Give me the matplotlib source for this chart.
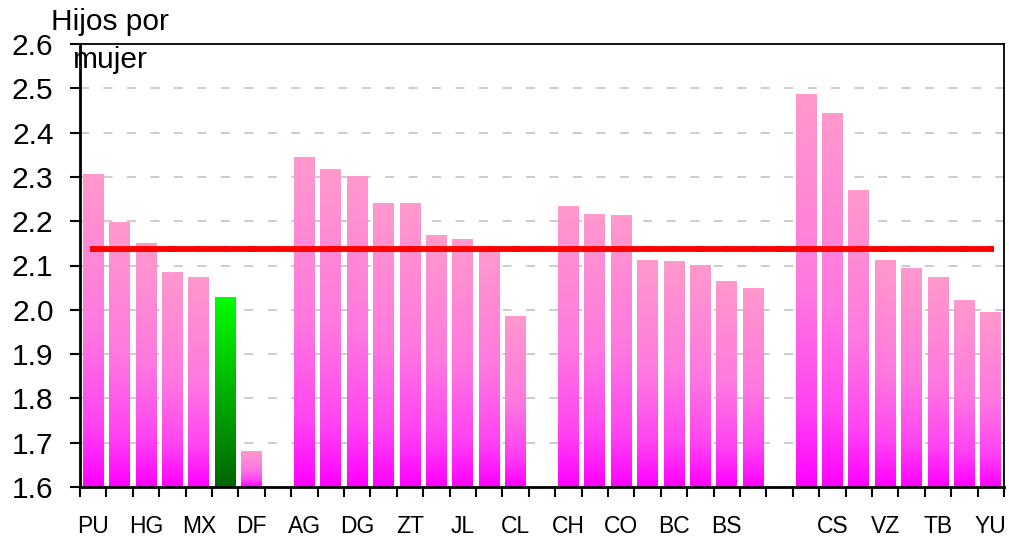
import numpy as np
import matplotlib.pyplot as plt
from matplotlib.colors import LinearSegmentedColormap

plt.rcParams['font.family'] = ['Liberation Sans', 'DejaVu Sans']

# one slot per position on the x axis, '' = no label / empty slot
slot_labels = ['PU', '', 'HG', '', 'MX', '', 'DF', '',
               'AG', '', 'DG', '', 'ZT', '', 'JL', '', 'CL', '',
               'CH', '', 'CO', '', 'BC', '', 'BS', '', '',
               '', 'CS', '', 'VZ', '', 'TB', '', 'YU']
tasa = [2.306, 2.198, 2.149, 2.085, 2.072, 2.027, 1.681, np.nan,
        2.343, 2.316, 2.302, 2.240, 2.239, 2.167, 2.158, 2.133, 1.986, np.nan,
        2.234, 2.216, 2.212, 2.112, 2.108, 2.099, 2.063, 2.049, np.nan,
        2.485, 2.444, 2.270, 2.112, 2.094, 2.072, 2.022, 1.995]
resaltado = 5          # bar drawn in green
promedio = 2.137       # national level (red line)

y_min, y_max = 1.6, 2.6
bar_w = 0.79

cmap_rosa = LinearSegmentedColormap.from_list(
    'rosa', [(0, '#FF00FF'), (0.2, '#FF44F2'), (0.5, '#FF78E0'), (1, '#FF99CC')])
cmap_verde = LinearSegmentedColormap.from_list('verde', ['#006400', '#00FF00'])
grad = np.linspace(0, 1, 256).reshape(-1, 1)

fig = plt.figure(figsize=(10.09, 5.42), dpi=100)
ax = fig.add_axes([80 / 1009, 1 - 487 / 542, 924 / 1009, 443 / 542])

x = np.arange(len(tasa))
for xi, v in zip(x, tasa):
    if np.isnan(v):
        continue
    cm = cmap_verde if xi == resaltado else cmap_rosa
    ax.imshow(grad, cmap=cm, origin='lower', aspect='auto', zorder=2,
              extent=[xi - bar_w / 2, xi + bar_w / 2, y_min, v],
              interpolation='bilinear')

ax.plot(x, np.full(len(x), promedio), color='red', lw=4.2, marker='s',
        ms=5, mew=0, zorder=4, solid_capstyle='butt')

ax.set_xlim(-0.5, len(tasa) - 0.5)
ax.set_ylim(y_min, y_max)

ax.set_yticks(np.arange(16, 27) / 10)
ax.set_yticklabels([f'{t / 10:.1f}' for t in range(16, 27)])
ax.tick_params(axis='y', labelsize=21.5, length=7, width=1.5, pad=12,
               direction='out')
for yv in np.arange(17, 26) / 10:
    ax.axhline(yv, color='#C8C8C8', lw=1.3, ls=(0, (5, 8)), zorder=1)

ax.set_xticks(np.arange(len(tasa) + 1) - 0.5)
ax.set_xticklabels([])
ax.tick_params(axis='x', which='major', length=7, width=1.5, direction='out')
ax.set_xticks(x, minor=True)
ax.set_xticklabels(slot_labels, minor=True, fontsize=16.5)
ax.tick_params(axis='x', which='minor', length=0, pad=20)

for side in ['left', 'bottom']:
    ax.spines[side].set_linewidth(2)
for side in ['top', 'right']:
    ax.spines[side].set_linewidth(1.3)

fig.text(110 / 1009, 1 - 8 / 542, 'Hijos por\nmujer', ha='center', va='top',
         ma='center', fontsize=21.5, linespacing=1.45)

fig.savefig('out.png', dpi=100)
